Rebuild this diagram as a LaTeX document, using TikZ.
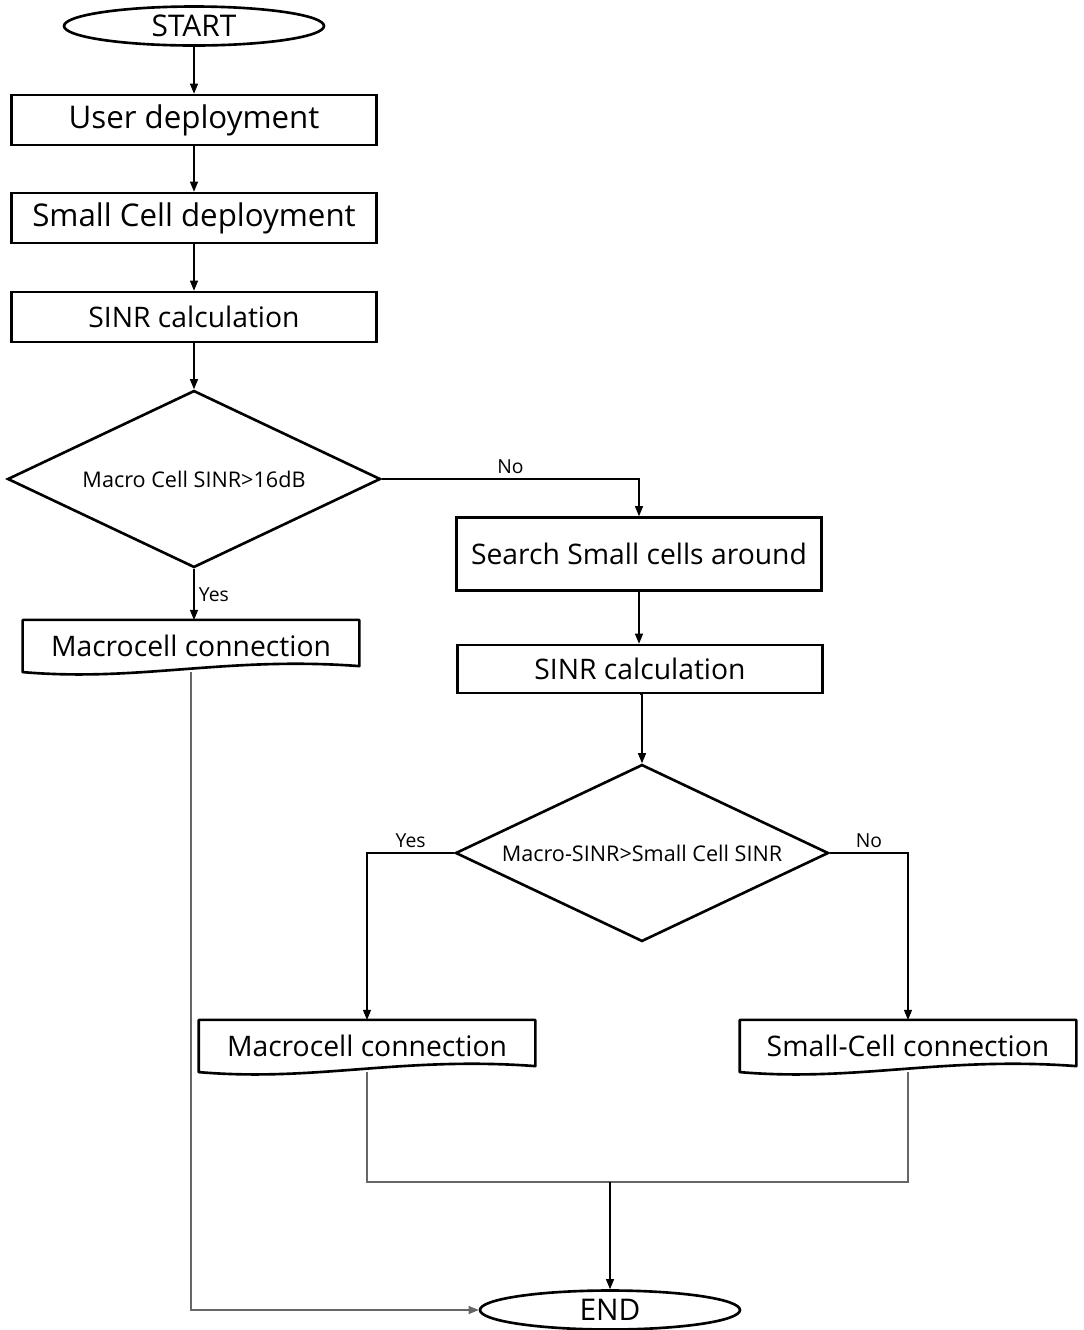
\documentclass[tikz,border=0pt]{standalone}
\usepackage{fontspec}
\setmainfont{Open Sans}
\usetikzlibrary{arrows.meta}
\usetikzlibrary{shapes.geometric}
\usetikzlibrary{calc}

\begin{document}
\begin{tikzpicture}[x=0.02cm, y=-0.02cm,
				terminal/.style={ellipse, draw, line width=1.5pt, inner sep=0pt, minimum width=5.2cm, minimum height=0.78cm, font=\fontsize{17}{20}\selectfont},
				process/.style={rectangle, draw, line width=1.5pt, inner sep=0pt, minimum width=7.3cm, minimum height=1cm},
				decision/.style={diamond, aspect=2.1, draw, line width=1.5pt, inner sep=0pt, minimum width=7.46cm, minimum height=3.54cm, font=\fontsize{12.3}{14}\selectfont},
				docbox/.style={rectangle, inner sep=0pt, minimum width=6.72cm, minimum height=1.03cm, font=\fontsize{16.1}{18}\selectfont},
				bigtext/.style={font=\fontsize{17.8}{20}\selectfont},
				midtext/.style={font=\fontsize{16.1}{18}\selectfont},
				answer/.style={font=\fontsize{11}{13}\selectfont, inner sep=2.5pt},
				arrow/.style={-{Triangle[length=2mm, width=1.6mm]}, line width=0.6pt},
				link/.style={line width=0.9pt, draw=black!60},
				]
				\useasboundingbox (0,0) rectangle (1084,1330);

				% Nodes
				\node[terminal] (start) at (194,26) {START};
				\node[process, bigtext] (user) at (194,120) {User deployment};
				\node[process, bigtext] (sdep) at (194,218) {Small Cell deployment};
				\node[process, midtext] (sinr1) at (194,317) {SINR calculation};
				\node[decision] (dec1) at (194,479) {Macro Cell SINR>16dB};
				\node[docbox] (mac1) at (191,646) {Macrocell connection};

				\node[process, midtext, minimum height=1.46cm] (search) at (639,554) {Search Small cells around};
				\node[process, midtext, minimum height=0.96cm] (sinr2) at (640,669) {SINR calculation};
				\node[decision] (dec2) at (642,853) {Macro-SINR>Small Cell SINR};
				\node[docbox] (mac2) at (367,1046) {Macrocell connection};
				\node[docbox] (small) at (908,1046) {Small-Cell connection};

				\node[terminal] (end) at (610,1310) {END};
				\coordinate (join) at (610,1182);

				% Document outlines
				\foreach \n in {mac1, mac2, small}
					\draw[line width=1.5pt, line join=round] (\n.south west) -- (\n.north west) -- (\n.north east) -- ($(\n.south east)+(0,-6)$)
						.. controls ($(\n.south west)!0.6!(\n.south east)+(0,-16)$) and ($(\n.south west)!0.35!(\n.south east)+(0,10)$) .. (\n.south west) -- cycle;

				% Main flow
				\draw[arrow] (start) -- (user);
				\draw[arrow] (user) -- (sdep);
				\draw[arrow] (sdep) -- (sinr1);
				\draw[arrow] (sinr1) -- (dec1);
				\draw[arrow] (dec1.south) -- (dec1.south |- mac1.north)
					node[answer, midway, right] {Yes};
				\draw[arrow] (dec1.east) -| (search.north)
					node[answer, pos=0.25, above] {No};
				\draw[arrow] (search.south) -- (search.south |- sinr2.north);
				\draw[arrow] (sinr2.south) -- (sinr2.south -| dec2.north) -- (dec2.north);

				% Second decision
				\draw[arrow] (dec2.west) -| (mac2.north)
					node[answer, pos=0.25, above] {Yes};
				\draw[arrow] (dec2.east) -| (small.north)
					node[answer, pos=0.25, above] {No};

				% Towards END
				\draw[link] (mac2.south) |- (join) -| (small.south);
				\draw[arrow] (join) -- (end.north);
				\draw[link, arrow] (mac1.south) |- (end.west);
			\end{tikzpicture}
\end{document}
